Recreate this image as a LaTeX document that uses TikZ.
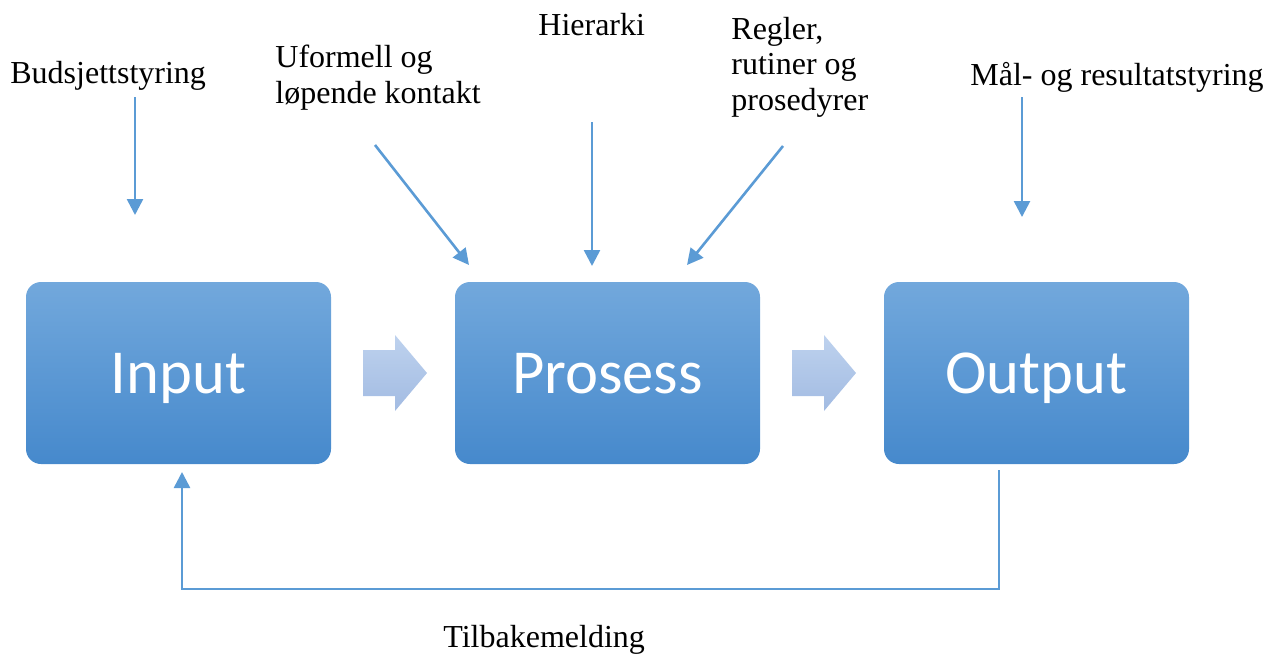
\documentclass[tikz,border=0pt]{standalone}
\usepackage{fontspec}
\setmainfont{Liberation Serif}
\newfontfamily\boxfont{Carlito}
\usetikzlibrary{arrows.meta,positioning,calc}
\definecolor{boxTop}{RGB}{114,168,220}
\definecolor{boxBot}{RGB}{70,137,204}
\definecolor{flowTop}{RGB}{190,210,238}
\definecolor{flowBot}{RGB}{162,187,226}
\definecolor{lineBlue}{RGB}{91,155,213}
\tikzset{
  stage/.style={rounded corners=7.5pt, top color=boxTop, bottom color=boxBot,
    minimum width=152.5pt, minimum height=91pt, inner sep=0pt, text=white,
    font=\boxfont\fontsize{31.3}{31}\selectfont, text height=20pt, text depth=0pt},
  lbl/.style={font=\fontsize{16}{17.75}\selectfont, align=left, inner sep=0pt,
    anchor=base west},
  ctrl/.style={draw=lineBlue, line width=1.3pt, -{Triangle[length=8pt,width=8pt]}},
  flow/.style={top color=flowTop, bottom color=flowBot},
}
\begin{document}
\begin{tikzpicture}[x=0.5pt,y=-0.5pt]
  \useasboundingbox (0,0) rectangle (1277,653);
  % Stages
  \node[stage] (input) at (178.5,373) {Input};
  \node[stage] (prosess) at (607.5,373) {Prosess};
  \node[stage] (output) at (1036.5,373) {Output};
  % Flow arrows between stages
  \path[flow] (363,350) -- (395,350) -- (395,335) -- (427,373)
    -- (395,411) -- (395,396) -- (363,396) -- cycle;
  \path[flow] (792,350) -- (824,350) -- (824,335) -- (856,373)
    -- (824,411) -- (824,396) -- (792,396) -- cycle;
  % Labels (base = last line)
  \node[lbl] (bud) at (10,83) {Budsjettstyring};
  \node[lbl] (uform) at (275,103) {Uformell og\\l\o pende kontakt};
  \node[lbl] (hier) at (538,35) {Hierarki};
  \node[lbl] (regler) at (731,110) {Regler,\\rutiner og\\prosedyrer};
  \node[lbl] (maal) at (970,85) {M\aa l- og resultatstyring};
  \node[lbl] (tilb) at (443,647) {Tilbakemelding};
  % Control arrows
  \coordinate (budS) at (135,97);   \coordinate (budE) at (135,215);
  \coordinate (uformS) at (375,145); \coordinate (uformE) at (469,265);
  \coordinate (hierS) at (592,122); \coordinate (hierE) at (592,266);
  \coordinate (reglerS) at (783,146); \coordinate (reglerE) at (687,265);
  \coordinate (maalS) at (1022,97); \coordinate (maalE) at (1022,217);
  \draw[ctrl] (budS) -- (budE);
  \draw[ctrl] (uformS) -- (uformE);
  \draw[ctrl] (hierS) -- (hierE);
  \draw[ctrl] (reglerS) -- (reglerE);
  \draw[ctrl] (maalS) -- (maalE);
  % Feedback
  \coordinate (fbOut) at (999,470);
  \coordinate (fbIn) at (182,472);
  \draw[ctrl] (fbOut) -- (999,589) -| (fbIn);
\end{tikzpicture}
\end{document}
